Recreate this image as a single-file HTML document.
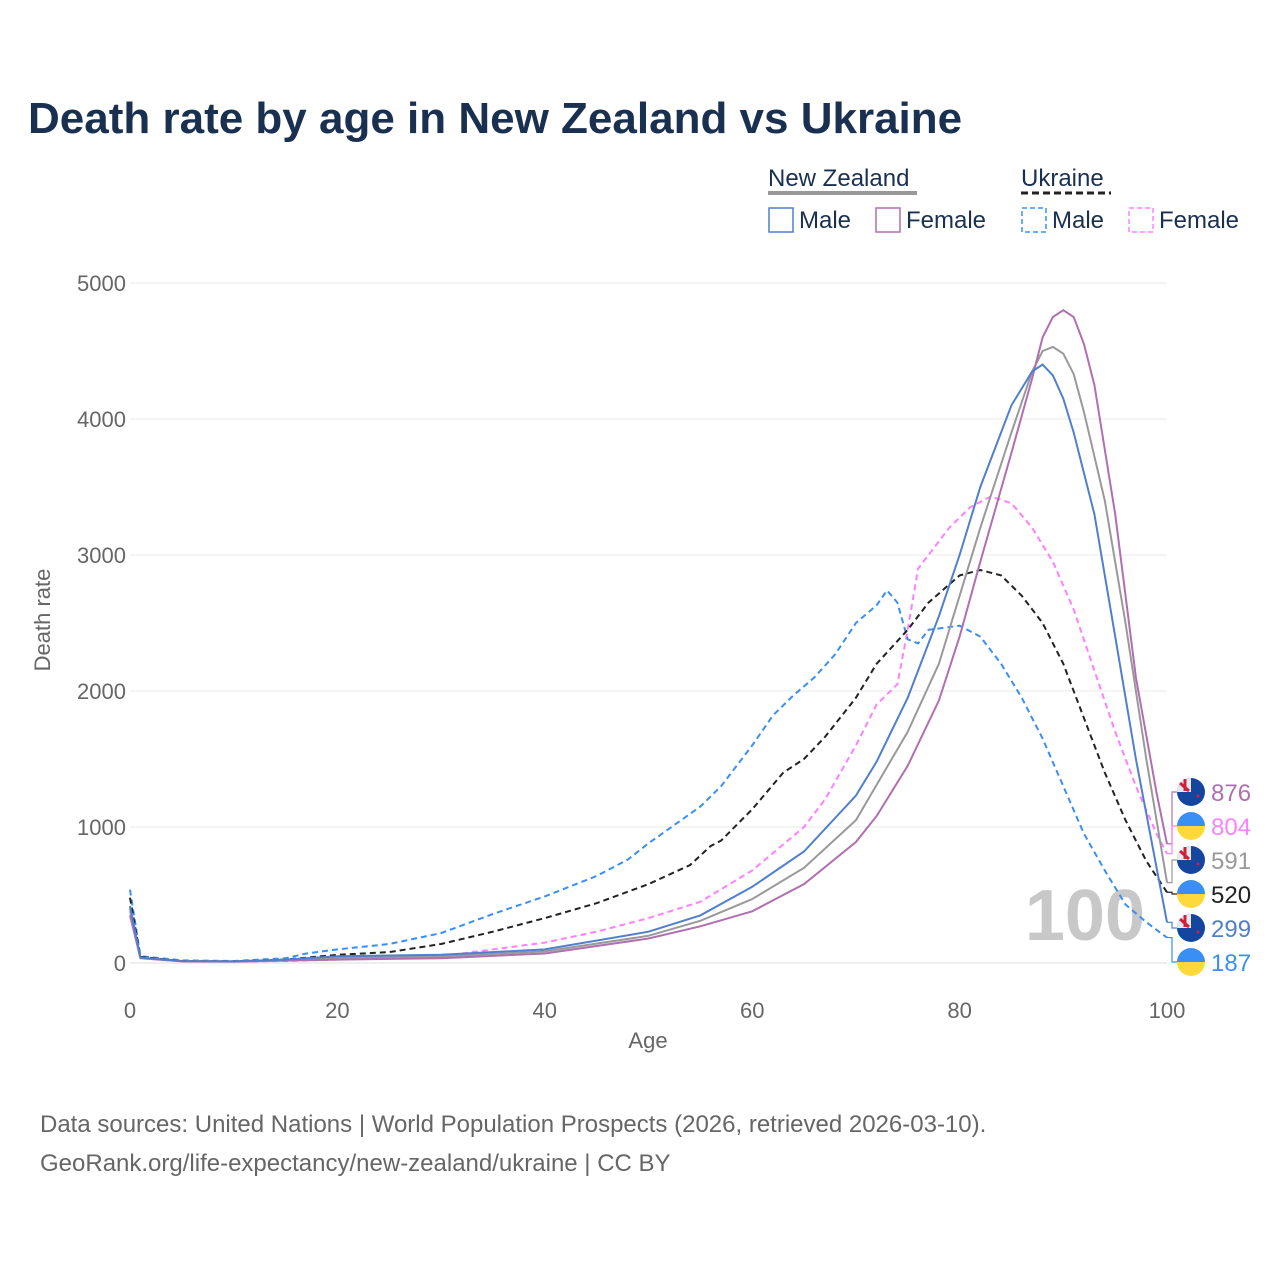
<!DOCTYPE html>
<html><head><meta charset="utf-8"><style>
body{margin:0;background:#fff;font-family:"Liberation Sans",sans-serif}
svg text{font-family:"Liberation Sans",sans-serif}
</style></head><body>
<svg width="1280" height="1280" viewBox="0 0 1280 1280">
<text x="28" y="133" font-size="44" font-weight="bold" fill="#1a3050">Death rate by age in New Zealand vs Ukraine</text>
<g>
<text x="768" y="186" font-size="24" fill="#1a3050">New Zealand</text>
<line x1="768" y1="193" x2="917" y2="193" stroke="#999" stroke-width="4"/>
<text x="1021" y="186" font-size="24" fill="#1a3050">Ukraine</text>
<line x1="1021" y1="193" x2="1111" y2="193" stroke="#222" stroke-width="3" stroke-dasharray="7,4"/>
<rect x="769" y="208" width="24" height="24" fill="none" stroke="#4f7fce" stroke-width="1.5"/>
<text x="799" y="228" font-size="24" fill="#1a3050">Male</text>
<rect x="876" y="208" width="24" height="24" fill="none" stroke="#b06fb0" stroke-width="1.5"/>
<text x="906" y="228" font-size="24" fill="#1a3050">Female</text>
<rect x="1022" y="208" width="24" height="24" fill="none" stroke="#3a8ff5" stroke-width="1.5" stroke-dasharray="5,3"/>
<text x="1052" y="228" font-size="24" fill="#1a3050">Male</text>
<rect x="1129" y="208" width="24" height="24" fill="none" stroke="#ff80ff" stroke-width="1.5" stroke-dasharray="5,3"/>
<text x="1159" y="228" font-size="24" fill="#1a3050">Female</text>
</g>
<g id="grid"></g>
<text x="1145" y="940" font-size="72" font-weight="bold" fill="#c8c8c8" text-anchor="end">100</text>
<g id="series"></g>
<g id="labels"></g>
<text x="648" y="1048" font-size="22" fill="#666" text-anchor="middle">Age</text>
<text transform="translate(50,620) rotate(-90)" font-size="22" fill="#666" text-anchor="middle">Death rate</text>
<text x="40" y="1132" font-size="24" fill="#666">Data sources: United Nations | World Population Prospects (2026, retrieved 2026-03-10).</text>
<text x="40" y="1171" font-size="24" fill="#666">GeoRank.org/life-expectancy/new-zealand/ukraine | CC BY</text>
</svg>
<script>
const xTicks=[0,20,40,60,80,100];
const yTicks=[0,1000,2000,3000,4000,5000];
const nzMaleAges=[0,1,5,10,15,20,30,40,50,55,60,65,70,72,75,78,80,82,85,87,88,89,90,91,93,95,97,99,100];
const nzMaleVals=[420,40,15,12,25,50,60,100,230,350,560,820,1230,1480,1950,2550,3000,3500,4100,4350,4400,4320,4150,3900,3300,2400,1500,700,299];
const nzFemaleAges=[0,1,5,10,15,20,30,40,50,55,60,65,70,72,75,78,80,82,85,87,88,89,90,91,92,93,95,97,99,100];
const nzFemaleVals=[350,35,12,10,18,25,35,70,180,270,380,580,890,1080,1450,1930,2400,2950,3750,4300,4600,4750,4800,4750,4550,4250,3300,2100,1250,876];
const nzTotalAges=[0,1,5,10,15,20,30,40,50,55,60,65,70,75,78,80,82,85,87,88,89,90,91,92,94,96,98,100];
const nzTotalVals=[400,38,14,11,22,38,48,85,200,310,470,700,1050,1700,2200,2700,3200,3900,4350,4500,4530,4480,4330,4050,3400,2500,1500,591];
const uaMaleAges=[0,1,5,10,15,17,20,25,30,35,40,45,48,50,55,57,60,62,64,66,68,70,72,73,74,75,76,77,80,82,84,86,88,90,92,94,96,98,100];
const uaMaleVals=[540,50,20,15,35,70,100,140,220,360,490,640,760,880,1150,1300,1600,1820,1970,2100,2270,2500,2630,2740,2650,2380,2350,2450,2480,2400,2200,1950,1650,1300,950,680,430,300,187];
const uaTotalAges=[0,1,5,10,15,20,25,30,35,40,45,50,52,54,56,57,60,63,65,67,70,72,75,77,80,82,84,86,88,90,92,94,96,98,100];
const uaTotalVals=[480,45,15,12,25,60,80,140,230,330,440,580,650,720,860,900,1130,1400,1500,1660,1950,2200,2450,2650,2850,2890,2850,2700,2500,2200,1800,1400,1050,750,520];
const uaFemaleAges=[0,1,5,10,15,20,30,40,45,50,55,60,65,67,70,72,74,75,76,77,79,81,83,85,87,89,91,93,95,97,99,100];
const uaFemaleVals=[380,35,12,10,15,25,50,150,230,330,450,680,1000,1200,1600,1900,2050,2450,2900,3000,3200,3350,3430,3380,3200,2950,2600,2150,1700,1300,950,804];
const endLabels=["876","804","591","520","299","187"];
const NS="http://www.w3.org/2000/svg";
const X=a=>130+a*10.37, Y=v=>963-v*0.136;
const grid=document.getElementById('grid');
function mk(t,at,p){const e=document.createElementNS(NS,t);for(const k in at)e.setAttribute(k,at[k]);p.appendChild(e);return e;}
yTicks.forEach(t=>{
 const l=mk('line',{x1:130,x2:1167,y1:Y(t),y2:Y(t),stroke:t===0?'#ddd':'#e8e8e8','stroke-width':1},grid);
 
 
 const tx=mk('text',{x:126,y:Y(t)+8,'font-size':22,fill:'#666','text-anchor':'end'},grid);tx.textContent=t;
 
 
});
xTicks.forEach(t=>{
 const tx=mk('text',{x:X(t),y:1018,'font-size':22,fill:'#666','text-anchor':'middle'},grid);tx.textContent=t;
 
 
});
const ser=document.getElementById('series');
const defs=[
 [uaFemaleAges,uaFemaleVals,'#ff80ff',true,'ua-female-line'],
 [uaMaleAges,uaMaleVals,'#3a8ff5',true,'ua-male-line'],
 [uaTotalAges,uaTotalVals,'#222',true,'ua-total-line'],
 [nzTotalAges,nzTotalVals,'#999',false,'nz-total-line'],
 [nzFemaleAges,nzFemaleVals,'#b06fb0',false,'nz-female-line'],
 [nzMaleAges,nzMaleVals,'#4f7fce',false,'nz-male-line']];
defs.forEach(d=>{
 const pts=d[0].map((a,i)=>X(a).toFixed(1)+','+Y(d[1][i]).toFixed(1)).join(' ');
 const p=mk('polyline',{points:pts,fill:'none',stroke:d[2],'stroke-width':2},ser);
 if(d[3])p.setAttribute('stroke-dasharray','6,4');
 
 
});
// end labels
const lab=document.getElementById('labels');
const order=[[nzFemaleVals,'#b06fb0','nz'],[uaFemaleVals,'#ff80ff','ua'],[nzTotalVals,'#999','nz'],[uaTotalVals,'#222','ua'],[nzMaleVals,'#4f7fce','nz'],[uaMaleVals,'#3a8ff5','ua']];
order.forEach((o,i)=>{
 const ly=792+i*34, vy=Y(o[0][o[0].length-1]);
 mk('polyline',{points:`1167,${vy} 1172,${vy} 1172,${ly} 1177,${ly}`,fill:'none',stroke:o[1],'stroke-width':1.2},lab);
 const g=mk('g',{},lab);
 
 
 if(o[2]==='nz'){
  mk('circle',{cx:1191,cy:ly,r:14,fill:'#1446a0'},g);
  mk('path',{d:`M1177,${ly} A14,14 0 0 1 1191,${ly-14} L1191,${ly} Z`,fill:'#e8e8f0'},g);
  mk('path',{d:`M1180,${ly-9} L1189,${ly-1} M1185,${ly-13} L1185,${ly-1}`,stroke:'#d0203a','stroke-width':3},g);
  mk('circle',{cx:1198,cy:ly+4,r:1.5,fill:'#d0203a'},g);
 } else {
  mk('path',{d:`M1177,${ly} A14,14 0 0 1 1205,${ly} Z`,fill:'#3a8ff5'},g);
  mk('path',{d:`M1177,${ly} A14,14 0 0 0 1205,${ly} Z`,fill:'#ffd83a'},g);
 }
 const t=mk('text',{x:1211,y:ly+9,'font-size':24,fill:o[1]},lab);t.textContent=endLabels[i];
 
 
});
</script>
</body></html>
